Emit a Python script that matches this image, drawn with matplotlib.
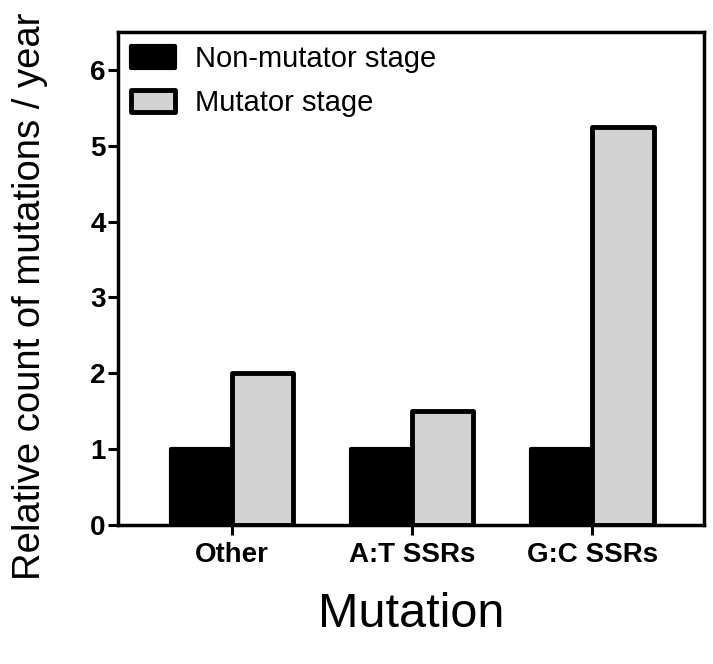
import matplotlib
matplotlib.use("Agg")
import matplotlib.pyplot as plt
import numpy as np

plt.rcParams['font.family'] = ['Liberation Sans', 'DejaVu Sans']

categories = ["Other", "A:T SSRs", "G:C SSRs"]
non_mutator = [1.0, 1.0, 1.0]
mutator = [2.0, 1.5, 5.25]
series_names = ["Non-mutator stage", "Mutator stage"]
yticks = [0, 1, 2, 3, 4, 5, 6]

fig = plt.figure(figsize=(7.13, 6.64), dpi=100)
ax = fig.add_axes([0.1655, 0.2093, 0.8219, 0.7425])

x = np.arange(len(categories))
w = 0.34
b1 = ax.bar(x - w / 2, non_mutator, w, color='black', edgecolor='black', linewidth=3,
            label=series_names[0])
b2 = ax.bar(x + w / 2, mutator, w, color='#d3d3d3', edgecolor='black', linewidth=3.5,
            label=series_names[1])
for p in list(b1) + list(b2):
    p.set_joinstyle('round')

ax.set_xlim(-0.633, 2.62)
ax.set_ylim(0, 6.5)
ax.set_xticks(x)
ax.set_xticklabels(categories, fontsize=20, fontweight='bold')
ax.set_yticks(yticks)
ax.set_yticklabels([str(t) for t in yticks], fontsize=20, fontweight='bold')
ax.tick_params(axis='both', direction='out', length=7, width=2.2)
ax.tick_params(axis='x', pad=5)
ax.tick_params(axis='y', pad=2)
for s in ax.spines.values():
    s.set_linewidth(2.5)

ax.set_xlabel("Mutation", fontsize=35)
ax.xaxis.set_label_coords(0.5, -0.135)
ax.set_ylabel("Relative count of mutations / year", fontsize=27.5)
ax.yaxis.set_label_coords(-0.12, 0.464)

leg = ax.legend(loc='upper left', frameon=False, fontsize=21, handlelength=1.5,
                handleheight=0.75, handletextpad=0.7, labelspacing=0.55,
                borderaxespad=0.05, bbox_to_anchor=(0.0, 1.0))
for h in leg.legend_handles:
    h.set_joinstyle('round')

fig.savefig("out.png", dpi=100)
